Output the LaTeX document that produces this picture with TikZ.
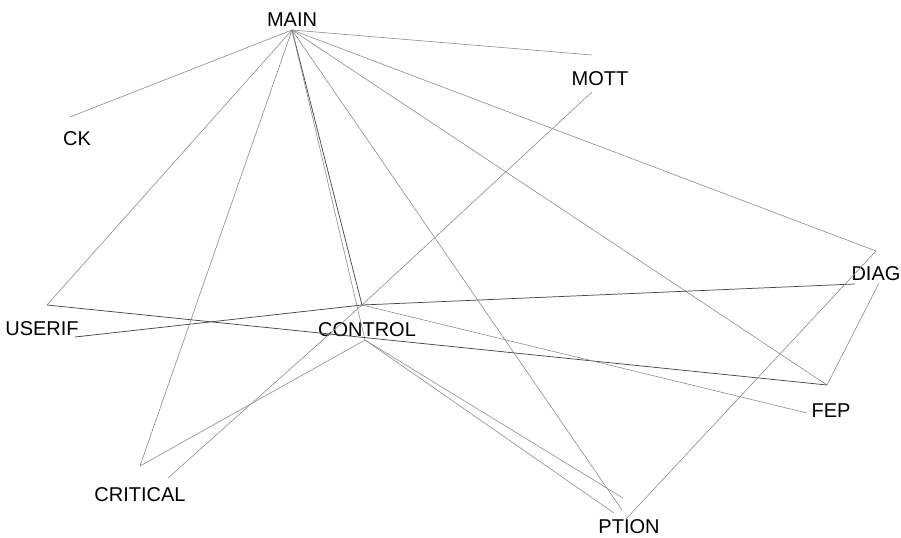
\documentclass[tikz,border=0pt]{standalone}
\usepackage{fontspec}
\setmainfont{Liberation Sans}
\begin{document}
\begin{tikzpicture}[x=0.75pt,y=-0.75pt,
  lbl/.style={inner sep=0pt,font=\fontsize{15}{15}\selectfont,text=black},
  edge/.style={draw=black!45,line width=0.45pt},
  darkedge/.style={draw=black!72,line width=0.55pt}]
\useasboundingbox (0,0) rectangle (901,538);
% labels
\node[lbl] (main) at (292,20) {MAIN};
\node[lbl] (ck) at (77,139) {CK};
\node[lbl] (mott) at (600,79) {MOTT};
\node[lbl] (userif) at (42,329) {USERIF};
\node[lbl] (control) at (367,330) {CONTROL};
\node[lbl] (diag) at (876,274) {DIAG};
\node[lbl] (fep) at (831,411) {FEP};
\node[lbl] (critical) at (140,495) {CRITICAL};
\node[lbl] (ption) at (629,527) {PTION};
% vertex points
\coordinate (M) at (292,30);
\coordinate (CKp) at (70,117);
\coordinate (MO1) at (592,55);
\coordinate (MO2) at (592,92);
\coordinate (Dp) at (876,251);
\coordinate (D2) at (855,284);
\coordinate (D3) at (879,283);
\coordinate (Up) at (47,305);
\coordinate (U2) at (75,337);
\coordinate (Cp) at (362,305);
\coordinate (Cq) at (365,340);
\coordinate (Fp) at (827,385);
\coordinate (F2) at (807,413);
\coordinate (Cr1) at (140,466);
\coordinate (Cr2) at (168,478);
\coordinate (P1) at (623,498);
\coordinate (P2) at (614,513);
\coordinate (P3) at (622,510);
\coordinate (P4) at (626,519);
% edges from MAIN
\draw[edge] (M) -- (CKp);
\draw[edge] (M) -- (MO1);
\draw[edge] (M) -- (Dp);
\draw[edge] (M) -- (Up);
\draw[edge] (M) -- (Cr1);
\draw[darkedge] (M) -- (Cp);
\draw[edge] (M) -- (Cq);
\draw[edge] (M) -- (Fp);
\draw[edge] (M) -- (P3);
% edges from CONTROL
\draw[edge] (Cp) -- (MO2);
\draw[darkedge] (Cp) -- (D2);
\draw[darkedge] (U2) -- (Cp);
\draw[darkedge] (Up) -- (Fp);
\draw[edge] (Cp) -- (F2);
\draw[edge] (Cq) -- (Cr1);
\draw[edge] (Cp) -- (Cr2);
\draw[edge] (Cq) -- (P1);
\draw[edge] (Cq) -- (P2);
% edges from DIAG
\draw[edge] (Dp) -- (P4);
\draw[edge] (D3) -- (Fp);
\end{tikzpicture}
\end{document}
